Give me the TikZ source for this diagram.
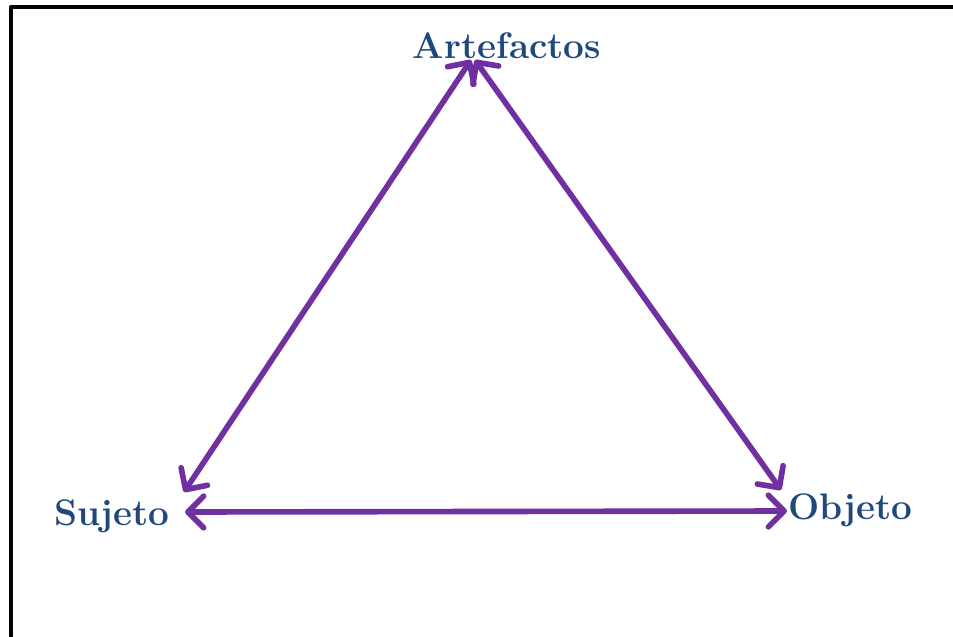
\documentclass[tikz,border=0pt]{standalone}
\usepackage{tikz}
\usetikzlibrary{arrows.meta}

\definecolor{arrowpurple}{RGB}{112,48,160}
\definecolor{labelblue}{RGB}{31,73,125}

\tikzset{
  corner/.style={text=labelblue, font=\fontsize{21}{25}\selectfont\bfseries, inner sep=2pt},
  link/.style={arrowpurple, line width=3.2pt, line cap=round,
    {Straight Barb[length=9pt,width=18pt,round]}-{Straight Barb[length=9pt,width=18pt,round]}}
}

\begin{document}
\begin{tikzpicture}[>=stealth,line join=round,line cap=round]
  \useasboundingbox (0,0) rectangle (19.06,12.72);

  % frame, only top and left
  \draw[line width=2.3pt] (0.22,0) -- (0.22,12.58) -- (19.06,12.58);

  % 1. corners of the triangle
  \node[corner] (art) at (10.14,11.80) {Artefactos};
  \node[corner] (suj) at (2.24,2.40) {Sujeto};
  \node[corner] (obj) at (17.00,2.52) {Objeto};

  % 2. double arrows between them
  \draw[link] ([shift={(-0.72,-0.28)}]art.center) -- ([shift={(1.44,0.48)}]suj.center);
  \draw[link] ([shift={(-0.64,-0.28)}]art.center) -- ([shift={(-1.38,0.40)}]obj.center);
  \draw[link] ([shift={(1.46,0.08)}]suj.center) -- ([shift={(-1.26,-0.02)}]obj.center);

\end{tikzpicture}
\end{document}
